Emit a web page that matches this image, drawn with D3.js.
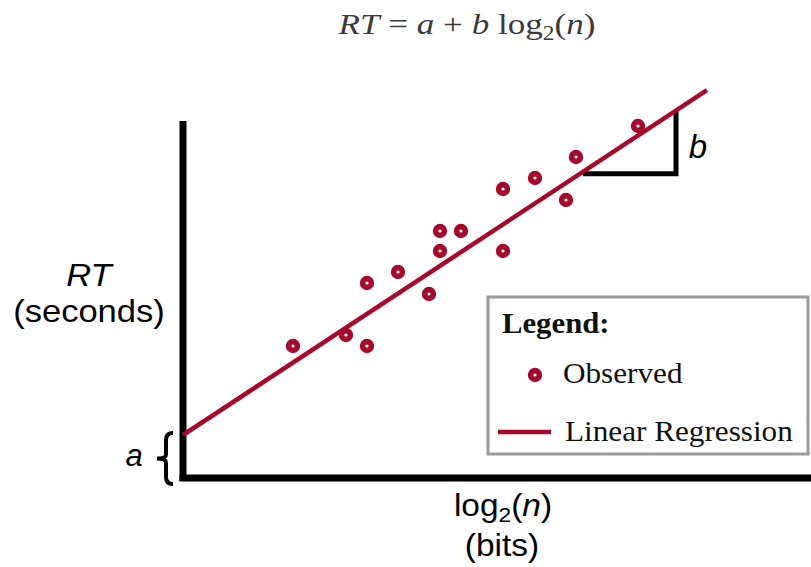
<!DOCTYPE html>
<html>
<head>
<meta charset="utf-8">
<script src="https://cdn.jsdelivr.net/npm/d3@7"></script>
<style>
  html, body { margin: 0; padding: 0; background: #fff; }
  svg { display: block; }
</style>
</head>
<body>
<div id="chart"></div>
<script>
// ---- data (log2(n) in arbitrary bit units, RT in arbitrary second units) ----
const obsX = [11.0, 16.3, 18.4, 18.4, 21.5, 24.6, 25.7, 25.7, 27.8, 32.0, 32.0, 35.2, 38.3, 39.3, 45.5];
const obsY = [13.2, 14.3, 13.2, 19.5, 20.6, 18.4, 24.7, 22.7, 24.7, 28.9, 22.7, 30.0, 27.8, 32.1, 35.2];
const regIntercept = 4.3;   // a
const regSlope = 0.658;     // b
const regXRange = [0, 52.4];
const slopeTriangleX = [40, 49.3];
const legendLabels = ["Observed", "Linear Regression"];

const W = 811, H = 567;
const RED = "#a50a2d";

const svg = d3.select("#chart").append("svg")
  .attr("width", W).attr("height", H);

const x = d3.scaleLinear().domain([0, 60]).range([183, 783]);
const y = d3.scaleLinear().domain([0, 36]).range([478, 118]);
const fit = v => regIntercept + regSlope * v;
const stretch = (cx, s) => `translate(${cx},0) scale(${s},1) translate(${-cx},0)`;

// Title
const title = svg.append("text")
  .attr("x", 467).attr("y", 34)
  .attr("text-anchor", "middle")
  .attr("transform", stretch(467, 1.17))
  .attr("font-family", "'Liberation Serif', 'Times New Roman', serif")
  .attr("font-size", 30).attr("fill", "#3a3a3a");
title.append("tspan").attr("font-style", "italic").text("RT");
title.append("tspan").text(" = ");
title.append("tspan").attr("font-style", "italic").text("a");
title.append("tspan").text(" + ");
title.append("tspan").attr("font-style", "italic").text("b");
title.append("tspan").text(" log");
title.append("tspan").attr("font-size", 20).attr("dy", 6).text("2");
title.append("tspan").attr("dy", -6).text("(");
title.append("tspan").attr("font-style", "italic").text("n");
title.append("tspan").text(")");

// Axes (plain thick lines, no ticks)
svg.append("line")
  .attr("x1", x(0)).attr("x2", x(0))
  .attr("y1", y(35.7)).attr("y2", y(0) + 3)
  .attr("stroke", "#000").attr("stroke-width", 7);
svg.append("line")
  .attr("x1", x(0) - 3.5).attr("x2", W)
  .attr("y1", y(0)).attr("y2", y(0))
  .attr("stroke", "#000").attr("stroke-width", 7);

// Slope triangle
svg.append("path")
  .attr("d", `M${x(slopeTriangleX[0])},${y(fit(slopeTriangleX[0])) + 2}
              L${x(slopeTriangleX[1])},${y(fit(slopeTriangleX[0])) + 2}
              L${x(slopeTriangleX[1])},${y(fit(slopeTriangleX[1]))}`)
  .attr("fill", "none").attr("stroke", "#000").attr("stroke-width", 5)
  .attr("stroke-linejoin", "miter");

// Regression line
svg.append("line")
  .attr("x1", x(regXRange[0])).attr("y1", y(fit(regXRange[0])))
  .attr("x2", x(regXRange[1])).attr("y2", y(fit(regXRange[1])))
  .attr("stroke", RED).attr("stroke-width", 4.5);

// Observed points
svg.append("g").selectAll("circle")
  .data(obsX.map((v, i) => [v, obsY[i]]))
  .join("circle")
  .attr("cx", d => x(d[0])).attr("cy", d => y(d[1]))
  .attr("r", 4.4)
  .attr("fill", "#fff").attr("stroke", RED).attr("stroke-width", 5.6);

// 'a' brace
const bx = 166, bTop = y(fit(0)) - 2, bBot = y(0) + 6, bMid = (bTop + bBot) / 2;
svg.append("path")
  .attr("d", `M${bx + 7},${bTop} Q${bx},${bTop} ${bx},${bTop + 7}
              L${bx},${bMid - 4} Q${bx},${bMid} ${bx - 9},${bMid}
              Q${bx},${bMid} ${bx},${bMid + 4}
              L${bx},${bBot - 7} Q${bx},${bBot} ${bx + 7},${bBot}`)
  .attr("fill", "none").attr("stroke", "#000").attr("stroke-width", 4);

const sans = "'Liberation Sans', Arial, sans-serif";
svg.append("text").attr("x", 134).attr("y", 466)
  .attr("text-anchor", "middle").attr("font-family", sans)
  .attr("font-style", "italic").attr("font-size", 31).text("a");

svg.append("text").attr("x", 698).attr("y", 158)
  .attr("text-anchor", "middle").attr("font-family", sans)
  .attr("font-style", "italic").attr("font-size", 33).text("b");

// Y label
svg.append("text").attr("x", 89).attr("y", 286)
  .attr("text-anchor", "middle").attr("font-family", sans)
  .attr("transform", stretch(89, 1.08))
  .attr("font-style", "italic").attr("font-size", 32).text("RT");
svg.append("text").attr("x", 89).attr("y", 322)
  .attr("text-anchor", "middle").attr("font-family", sans)
  .attr("transform", stretch(89, 1.08))
  .attr("font-size", 32).text("(seconds)");

// X label
const xl = svg.append("text").attr("x", 503).attr("y", 516)
  .attr("text-anchor", "middle").attr("font-family", sans)
  .attr("transform", stretch(503, 1.08))
  .attr("font-size", 31);
xl.append("tspan").text("log");
xl.append("tspan").attr("font-size", 21).attr("dy", 6).text("2");
xl.append("tspan").attr("dy", -6).text("(");
xl.append("tspan").attr("font-style", "italic").text("n");
xl.append("tspan").text(")");
svg.append("text").attr("x", 502).attr("y", 556)
  .attr("text-anchor", "middle").attr("font-family", sans)
  .attr("transform", stretch(502, 1.08))
  .attr("font-size", 31).text("(bits)");

// Legend
const serif = "'Liberation Serif', 'Times New Roman', serif";
const lg = svg.append("g");
lg.append("rect").attr("x", 488).attr("y", 297).attr("width", 320).attr("height", 157)
  .attr("fill", "#fff").attr("stroke", "#9a9a9a").attr("stroke-width", 3);
lg.append("text").attr("x", 502).attr("y", 333)
  .attr("transform", stretch(502, 1.06))
  .attr("font-family", serif).attr("font-weight", "bold").attr("font-size", 29)
  .attr("fill", "#111").text("Legend:");
lg.append("circle").attr("cx", 535).attr("cy", 375).attr("r", 4.4)
  .attr("fill", "#fff").attr("stroke", RED).attr("stroke-width", 5.6);
lg.append("text").attr("x", 563).attr("y", 383)
  .attr("transform", stretch(563, 1.04))
  .attr("font-family", serif).attr("font-size", 30).attr("fill", "#111")
  .text(legendLabels[0]);
lg.append("line").attr("x1", 498).attr("x2", 551).attr("y1", 432).attr("y2", 432)
  .attr("stroke", RED).attr("stroke-width", 4.5);
lg.append("text").attr("x", 565).attr("y", 441)
  .attr("transform", stretch(565, 1.04))
  .attr("font-family", serif).attr("font-size", 30).attr("fill", "#111")
  .text(legendLabels[1]);
</script>
</body>
</html>
